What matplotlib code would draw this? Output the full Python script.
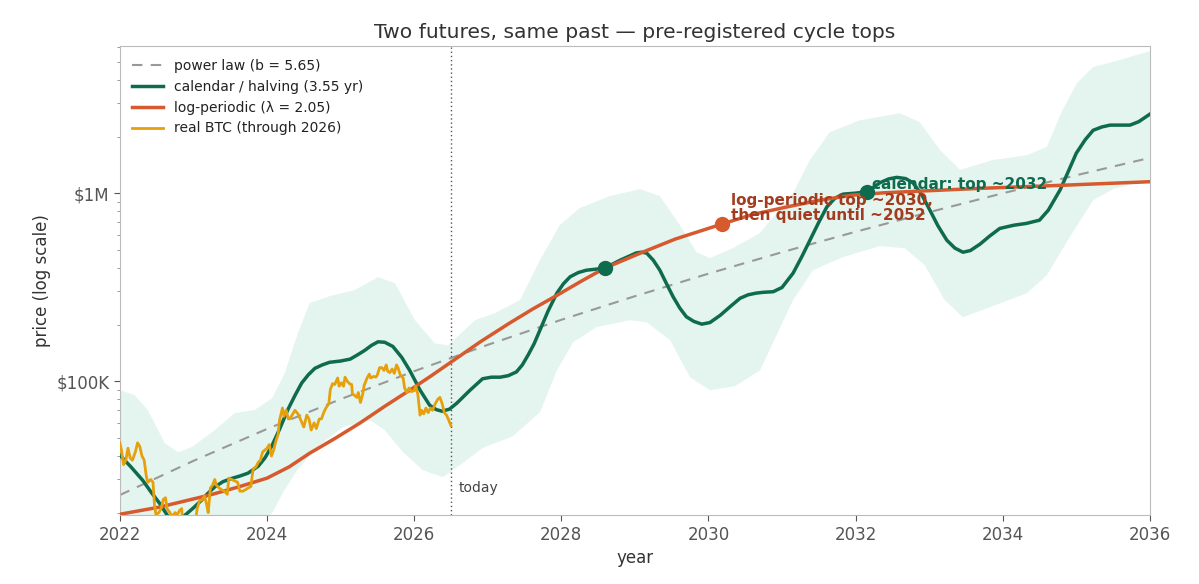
import numpy as np
import matplotlib
matplotlib.use("Agg")
import matplotlib.pyplot as plt
from matplotlib.ticker import FixedLocator, FixedFormatter, LogLocator, NullFormatter

# power law reference (b = 5.65), yearly readings, price in $K
pl_year = [2022, 2023, 2024, 2025, 2026, 2027, 2028, 2029, 2030, 2031, 2032, 2033, 2034, 2035, 2036]
pl_price = [24.8, 37.7, 55.7, 80.2, 113, 156, 212, 283, 373, 485, 623, 792, 998, 1245, 1540]

# calendar / halving model
cal_year = [2022.00, 2022.15, 2022.31, 2022.43, 2022.54, 2022.65, 2022.76, 2022.90, 2023.00, 2023.11,
            2023.20, 2023.29, 2023.40, 2023.52, 2023.63, 2023.74, 2023.88, 2023.97, 2024.06, 2024.17,
            2024.28, 2024.38, 2024.47, 2024.56, 2024.65, 2024.75, 2024.85, 2025.00, 2025.13, 2025.23,
            2025.33, 2025.42, 2025.51, 2025.60, 2025.71, 2025.83, 2025.94, 2026.08, 2026.21, 2026.30,
            2026.38, 2026.48, 2026.58, 2026.76, 2026.93, 2027.05, 2027.17, 2027.28, 2027.39, 2027.47,
            2027.55, 2027.63, 2027.71, 2027.82, 2027.94, 2028.03, 2028.12, 2028.23, 2028.34, 2028.59,
            2028.70, 2028.80, 2028.91, 2029.02, 2029.09, 2029.16, 2029.25, 2029.34, 2029.43, 2029.52,
            2029.61, 2029.70, 2029.80, 2029.91, 2030.02, 2030.16, 2030.30, 2030.43, 2030.54, 2030.65,
            2030.75, 2030.88, 2031.00, 2031.15, 2031.27, 2031.38, 2031.50, 2031.61, 2031.72, 2031.83,
            2032.00, 2032.15, 2032.24, 2032.33, 2032.45, 2032.56, 2032.68, 2032.78, 2032.90, 2033.01,
            2033.12, 2033.24, 2033.35, 2033.46, 2033.56, 2033.69, 2033.82, 2033.96, 2034.15, 2034.32,
            2034.50, 2034.62, 2034.78, 2034.89, 2035.00, 2035.12, 2035.23, 2035.35, 2035.46, 2035.60,
            2035.73, 2035.85, 2036.00]
cal_price = [40.4, 35.0, 29.7, 25.5, 22.4, 19.2, 17.8, 19.6, 21.2, 23.3,
             25.4, 27.4, 29.2, 30.4, 31.3, 32.4, 35.3, 39.0, 44.8, 55.5,
             70.2, 84.0, 97.6, 108, 117, 122, 126, 128, 131, 138,
             146, 155, 162, 161, 153, 134, 114, 89.6, 74.5, 70.6,
             69.2, 71.0, 76.4, 89.6, 103, 105, 105, 107, 112, 122,
             138, 158, 187, 236, 294, 330, 359, 378, 389, 399,
             420, 440, 460, 481, 485, 480, 440, 389, 330, 281,
             245, 220, 208, 201, 205, 224, 250, 276, 288, 294,
             297, 299, 315, 375, 460, 562, 700, 845, 940, 988,
             1000, 1017, 1070, 1135, 1190, 1213, 1195, 1135, 980, 812,
             670, 562, 510, 485, 495, 535, 590, 649, 675, 690,
             718, 812, 1040, 1300, 1630, 1920, 2160, 2250, 2300, 2300,
             2300, 2400, 2630]

# calendar model uncertainty band (upper / lower edges)
band_hi_year = [2022.00, 2022.20, 2022.38, 2022.61, 2022.79, 2022.98, 2023.29, 2023.56, 2023.83, 2024.07,
                2024.24, 2024.42, 2024.58, 2024.85, 2025.19, 2025.51, 2025.74, 2026.01, 2026.28, 2026.46,
                2026.83, 2027.10, 2027.44, 2027.71, 2027.98, 2028.25, 2028.66, 2029.07, 2029.34, 2029.61,
                2029.84, 2030.02, 2030.33, 2030.70, 2031.15, 2031.38, 2031.65, 2032.06, 2032.60, 2032.87,
                2033.15, 2033.42, 2033.87, 2034.33, 2034.60, 2034.80, 2035.01, 2035.23, 2035.59, 2036.00]
band_hi = [89.6, 84.3, 70.2, 46.8, 41.9, 44.6, 54.9, 67.6, 70.2, 81.2,
           110, 180, 260, 283, 305, 357, 332, 211, 159, 155,
           211, 230, 270, 440, 676, 832, 964, 1050, 964, 676,
           485, 451, 509, 612, 1000, 1500, 2110, 2440, 2660, 2390,
           1690, 1330, 1500, 1590, 1760, 2700, 3850, 4680, 5100, 5690]
band_lo_year = [2022.00, 2022.68, 2023.36, 2023.77, 2024.07, 2024.22, 2024.41, 2024.68, 2025.03, 2025.40,
                2025.60, 2025.85, 2026.12, 2026.39, 2026.62, 2026.93, 2027.34, 2027.71, 2027.94, 2028.16,
                2028.48, 2028.93, 2029.16, 2029.48, 2029.75, 2030.02, 2030.36, 2030.70, 2031.15, 2031.42,
                2031.83, 2032.33, 2032.67, 2032.94, 2033.21, 2033.46, 2033.87, 2034.33, 2034.60, 2034.91,
                2035.23, 2035.52, 2036.00]
band_lo = [14.3, 11.9, 13.4, 16.1, 19.9, 25.7, 33.6, 44.6, 56.9, 62.1,
           54.9, 41.9, 33.6, 30.9, 35.7, 44.1, 50.9, 68.4, 114, 161,
           194, 211, 206, 165, 105, 89.6, 94, 114, 270, 389,
           457, 523, 509, 414, 270, 219, 251, 294, 366, 583,
           918, 1060, 1170]

# log-periodic model
lp_year = [2022.00, 2022.54, 2023.22, 2023.60, 2024.00, 2024.30, 2024.58, 2024.92, 2025.26, 2025.60,
           2025.94, 2026.22, 2026.51, 2026.90, 2027.30, 2027.62, 2027.94, 2028.27, 2028.59, 2029.11,
           2029.55, 2030.18, 2030.60, 2031.07, 2031.50, 2031.96, 2032.40, 2032.87, 2033.69, 2034.78,
           2036.00]
lp_price = [19.6, 21.4, 24.8, 27.3, 30.5, 35.0, 41.4, 49.5, 59.8, 73.5,
            89.6, 106, 127, 162, 204, 243, 286, 340, 399, 486,
            570, 684, 770, 845, 915, 976, 1005, 1025, 1060, 1100,
            1150]

# real BTC through mid-2026
btc_year = [2022.00, 2022.02, 2022.05, 2022.08, 2022.11, 2022.14, 2022.17, 2022.21, 2022.24, 2022.27,
            2022.30, 2022.33, 2022.36, 2022.38, 2022.42, 2022.45, 2022.47, 2022.49, 2022.53, 2022.56,
            2022.59, 2022.62, 2022.64, 2022.68, 2022.71, 2022.75, 2022.78, 2022.81, 2022.84, 2022.86,
            2022.90, 2022.95, 2022.99, 2023.02, 2023.05, 2023.08, 2023.12, 2023.15, 2023.18, 2023.20,
            2023.23, 2023.26, 2023.29, 2023.31, 2023.35, 2023.38, 2023.42, 2023.46, 2023.48, 2023.52,
            2023.56, 2023.60, 2023.63, 2023.67, 2023.71, 2023.74, 2023.78, 2023.81, 2023.85, 2023.88,
            2023.91, 2023.94, 2023.97, 2024.00, 2024.03, 2024.06, 2024.09, 2024.12, 2024.15, 2024.17,
            2024.19, 2024.21, 2024.23, 2024.26, 2024.29, 2024.31, 2024.35, 2024.38, 2024.42, 2024.46,
            2024.50, 2024.54, 2024.57, 2024.60, 2024.64, 2024.67, 2024.71, 2024.74, 2024.77, 2024.80,
            2024.84, 2024.86, 2024.89, 2024.92, 2024.96, 2024.98, 2025.01, 2025.04, 2025.06, 2025.09,
            2025.12, 2025.15, 2025.16, 2025.19, 2025.22, 2025.24, 2025.27, 2025.30, 2025.32, 2025.36,
            2025.39, 2025.41, 2025.45, 2025.48, 2025.50, 2025.53, 2025.56, 2025.59, 2025.62, 2025.64,
            2025.67, 2025.70, 2025.73, 2025.76, 2025.78, 2025.81, 2025.85, 2025.87, 2025.90, 2025.93,
            2025.96, 2026.00, 2026.02, 2026.05, 2026.08, 2026.10, 2026.13, 2026.16, 2026.19, 2026.22,
            2026.25, 2026.28, 2026.32, 2026.35, 2026.38, 2026.41, 2026.44, 2026.47, 2026.50]
btc_price = [47, 43, 36, 38, 44, 39, 38, 42, 47, 45,
             40, 38, 31, 29, 30, 29, 22, 19.5, 20, 21,
             23.5, 24, 21, 20, 19, 20, 19.5, 20.5, 21, 16.5,
             16.5, 17, 16.6, 17, 21, 23, 23.5, 24.5, 22, 20,
             27, 28, 30, 28, 27, 26.5, 26, 25, 30.5, 30,
             29.5, 29, 26, 26, 26.5, 27, 27.5, 34, 35, 37,
             38, 42, 43, 44, 46, 40, 43, 48, 52, 62,
             67, 72, 65, 70, 63, 63, 67, 70, 67, 62,
             57, 66, 63, 55, 60, 56, 63, 63, 68, 72,
             76, 90, 97, 96, 104, 94, 98, 94, 105, 100,
             97, 96, 86, 84, 82, 87, 77, 85, 95, 104,
             109, 104, 106, 105, 108, 118, 118, 114, 122, 113,
             111, 116, 110, 122, 118, 108, 104, 92, 87, 92,
             88, 89, 94, 85, 66, 70, 67, 72, 68, 72,
             70, 75, 80, 82, 76, 68, 66, 62, 58]

# pre-registered tops
lp_top = (2030.18, 684)
cal_top_1 = (2028.59, 399)
cal_top_2 = (2032.15, 1017)
today = 2026.5

GREEN = '#0f6b4e'
ORANGE = '#d65a2e'
GOLD = '#e6a00c'
K = 1e3

fig = plt.figure(figsize=(11.99, 5.84), dpi=100)
ax = fig.add_axes([0.100, 0.118, 0.859, 0.803])

# band
bx = np.concatenate([band_hi_year, band_lo_year[::-1]])
by = np.concatenate([band_hi, band_lo[::-1]]) * K
ax.fill(bx, by, color='#e4f4ee', lw=0, zorder=1)

ax.plot(pl_year, np.array(pl_price) * K, color='#999999', lw=1.5, ls=(0, (5, 4)),
        label='power law (b = 5.65)', zorder=2)
ax.plot(cal_year, np.array(cal_price) * K, color=GREEN, lw=2.5,
        label='calendar / halving (3.55 yr)', zorder=3)
ax.plot(lp_year, np.array(lp_price) * K, color=ORANGE, lw=2.5,
        label=u'log-periodic (\u03bb = 2.05)', zorder=4)
ax.plot(btc_year, np.array(btc_price) * K, color=GOLD, lw=2,
        label='real BTC (through 2026)', zorder=5)

ax.plot([cal_top_1[0], cal_top_2[0]], [cal_top_1[1] * K, cal_top_2[1] * K], 'o',
        color=GREEN, ms=10, zorder=6)
ax.plot([lp_top[0]], [lp_top[1] * K], 'o', color=ORANGE, ms=10, zorder=6)

ax.annotate('log-periodic top ~2030,\nthen quiet until ~2052', xy=(lp_top[0], lp_top[1] * K),
            xytext=(7, 1), textcoords='offset points', ha='left', va='bottom',
            fontsize=11, fontweight='bold', color='#a33c1f', zorder=7, linespacing=1.0)
ax.annotate('calendar: top ~2032', xy=(cal_top_2[0], cal_top_2[1] * K),
            xytext=(4, 0), textcoords='offset points', ha='left', va='bottom',
            fontsize=11, fontweight='bold', color=GREEN, zorder=7)

ax.axvline(today, color='#555555', lw=1, ls=(0, (1, 2)), zorder=2)
ax.text(today + 0.1, 27 * K, 'today', fontsize=10, color='#444444', va='center', ha='left')

ax.set_yscale('log')
ax.set_xlim(2022, 2036)
ax.set_ylim(19.4 * K, 6.05e6)
ax.set_xticks(range(2022, 2037, 2))
ax.yaxis.set_major_locator(FixedLocator([1e5, 1e6]))
ax.yaxis.set_major_formatter(FixedFormatter(['$100K', '$1M']))
ax.yaxis.set_minor_locator(LogLocator(base=10, subs=np.arange(2, 10)))
ax.yaxis.set_minor_formatter(NullFormatter())

ax.tick_params(axis='both', which='major', labelsize=12, colors='#555555', length=4)
ax.tick_params(axis='y', which='minor', colors='#888888', length=2.5)
for s in ax.spines.values():
    s.set_color('#bbbbbb')

ax.set_title(u'Two futures, same past \u2014 pre-registered cycle tops', fontsize=14.6, color='#333333')
ax.set_xlabel('year', fontsize=12, color='#333333')
ax.set_ylabel('price (log scale)', fontsize=12, color='#333333')

leg = ax.legend(loc='upper left', fontsize=10, frameon=False, handlelength=2.2)
for t in leg.get_texts():
    t.set_color('#222222')

fig.savefig('out.png', dpi=100)
